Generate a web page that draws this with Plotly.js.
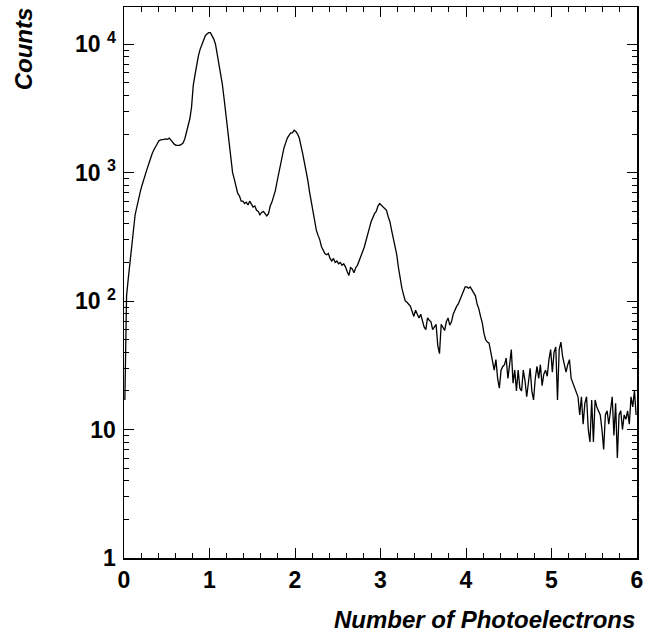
<!DOCTYPE html>
<html>
<head>
<meta charset="utf-8">
<script src="https://cdn.plot.ly/plotly-3.0.1.min.js"></script>
<style>
  html, body { margin: 0; padding: 0; background: #ffffff; }
  #chart { width: 646px; height: 636px; }
</style>
</head>
<body>
<div id="chart"></div>
<script>
// ---- data ----
const xMin = 0;
const xMax = 6;
const binWidth = 0.02;
// histogram contents, one value per bin of width 0.02 from 0 to 6
const counts = [
  17,110,150,205,280,355,470,540,630,710,
  795,890,980,1070,1175,1320,1410,1510,1590,1700,
  1780,1800,1820,1820,1830,1820,1860,1780,1700,1660,
  1630,1620,1630,1660,1700,1820,2040,2290,2630,3240,
  4790,5750,6920,8130,9120,10000,10840,11610,12020,12300,
  12300,11750,10960,10000,8510,7240,5890,4900,3800,2950,
  2290,1700,1260,1000,890,760,690,660,600,600,
  575,590,560,600,575,540,550,510,500,470,
  490,500,480,460,480,550,590,645,725,850,
  1000,1150,1350,1550,1700,1860,1950,2040,2040,2140,
  2090,2000,1860,1660,1410,1200,1050,870,710,590,
  480,410,355,325,300,265,245,235,230,235,
  215,205,215,200,205,195,200,190,195,185,
  170,158,182,178,166,182,190,205,220,240,
  263,295,325,370,415,455,480,500,550,575,
  560,540,525,510,455,415,355,310,270,230,
  182,145,126,112,100,98,95,91,83,76,
  85,79,74,79,72,63,60,74,71,69,
  60,63,66,45,39,66,63,59,69,74,
  65,69,79,85,91,95,102,110,120,129,
  129,126,129,123,117,110,95,87,76,68,
  56,50,48,47,40,33,29,35,25,21,
  29,31,32,36,25,32,42,23,29,20,
  29,21,20,29,24,18,24,30,20,17,
  25,31,25,32,22,27,29,26,35,42,
  28,40,44,17,42,48,37,32,28,32,
  35,25,23,21,20,18,13,18,11,16,
  18,10,8,17,8,17,15,14,13,10,
  7,13,14,11,15,18,9,16,6,13,
  14,10,13,12,14,11,18,15,20,13
];
const xTickVals = [0, 1, 2, 3, 4, 5, 6];
const yTickVals = [1, 10, 100, 1000, 10000];
const yTickText = ["1", "10", "10\u00A0<sup>2</sup>", "10\u00A0<sup>3</sup>", "10\u00A0<sup>4</sup>"];
const xTitle = "Number of Photoelectrons";
const yTitle = "Counts";

// ---- build ----
const xCenters = counts.map((_, i) => xMin + binWidth * (i + 0.5));
const yMinor = [];
for (let d = 1; d <= 10000; d *= 10) {
  for (let k = 2; k <= 9; k++) { if (d * k < 20000) yMinor.push(d * k); }
}

const FONT = "Liberation Sans, Arial, Helvetica, sans-serif";

const trace = {
  type: "scatter",
  mode: "lines",
  x: xCenters,
  y: counts,
  line: { color: "#000000", width: 1.3, shape: "linear" },
  hoverinfo: "skip"
};

const layout = {
  width: 646,
  height: 636,
  margin: { l: 124, r: 9, t: 7, b: 78 },
  paper_bgcolor: "#ffffff",
  plot_bgcolor: "#ffffff",
  showlegend: false,
  font: { family: FONT, color: "#000000" },
  xaxis: {
    range: [xMin, xMax],
    tickmode: "array",
    tickvals: xTickVals,
    ticks: "inside",
    ticklen: 10,
    tickwidth: 1,
    tickcolor: "#000000",
    minor: { ticks: "inside", ticklen: 5, tickwidth: 1, tickcolor: "#000000", dtick: 0.2, tick0: 0, showgrid: false },
    showline: true,
    linecolor: "#000000",
    linewidth: 1.5,
    mirror: "ticks",
    showgrid: false,
    zeroline: false,
    tickfont: { family: FONT, size: 23, weight: "bold", color: "#000000" },
    ticklabelstandoff: 1
  },
  yaxis: {
    type: "log",
    range: [0, 4.29],
    tickmode: "array",
    tickvals: yTickVals,
    ticktext: yTickText,
    ticks: "inside",
    ticklen: 10,
    tickwidth: 1,
    tickcolor: "#000000",
    minor: { ticks: "inside", ticklen: 5, tickwidth: 1, tickcolor: "#000000", tickmode: "array", tickvals: yMinor, showgrid: false },
    showline: true,
    linecolor: "#000000",
    linewidth: 1.5,
    mirror: "ticks",
    showgrid: false,
    zeroline: false,
    tickfont: { family: FONT, size: 23, weight: "bold", color: "#000000" },
    ticklabelstandoff: 2
  },
  annotations: [
    {
      text: xTitle,
      xref: "paper", yref: "paper",
      x: 1, y: -0.112,
      xanchor: "right", yanchor: "middle",
      showarrow: false,
      font: { family: FONT, size: 24, weight: "bold", style: "italic", color: "#000000" }
    },
    {
      text: yTitle,
      xref: "paper", yref: "paper",
      x: -0.196, y: 1.003,
      xanchor: "center", yanchor: "top",
      textangle: -90,
      showarrow: false,
      font: { family: FONT, size: 24, weight: "bold", style: "italic", color: "#000000" }
    }
  ]
};

Plotly.newPlot("chart", [trace], layout, { staticPlot: true, displayModeBar: false });
</script>
</body>
</html>
